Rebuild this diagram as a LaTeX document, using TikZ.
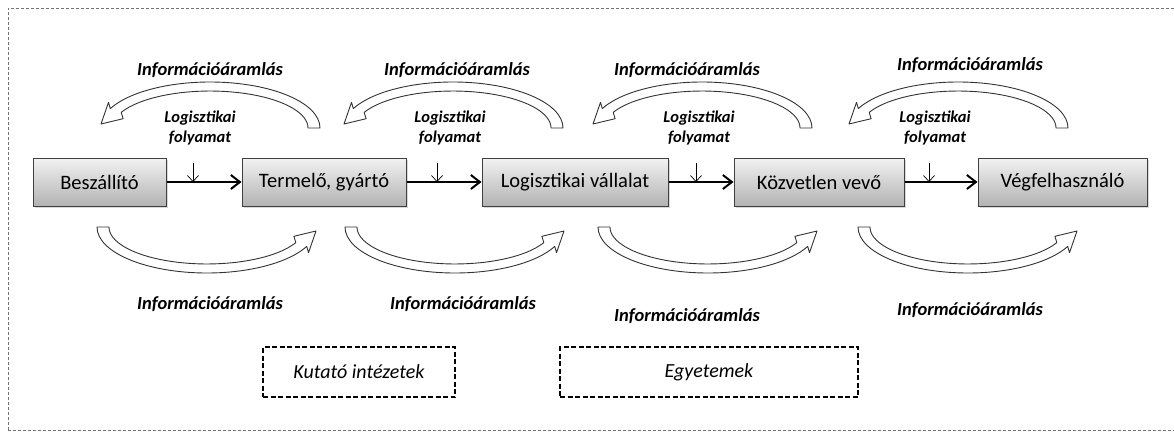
\documentclass[tikz,border=0pt]{standalone}
\usepackage{fontspec}
\setmainfont{Carlito}
\usetikzlibrary{arrows.meta, positioning, shadows}
\tikzset{
  firm/.style       = {rectangle, draw=black!75, line width=1pt,
                       top color=black!5, bottom color=black!30,
                       minimum height=48pt, inner sep=0pt,
                       font=\fontsize{20.5}{24}\selectfont,
                       drop shadow={shadow xshift=2pt, shadow yshift=-2pt, opacity=0.3}},
  flow/.style       = {-{Straight Barb[length=9pt, width=14pt]}, line width=2pt},
  tick/.style       = {-{Straight Barb[length=6pt, width=11pt]}, line width=0.7pt},
  infolabel/.style  = {font=\fontsize{18.5}{22}\selectfont\bfseries\itshape},
  loglabel/.style   = {font=\fontsize{16.5}{20}\selectfont\bfseries\itshape, align=center},
  hollow/.style     = {draw=black!80, fill=white, line width=0.9pt, line join=round},
  institute/.style  = {rectangle, draw, dash pattern=on 5pt off 2.5pt, line width=1.6pt,
                       minimum height=50pt, font=\fontsize{20}{24}\selectfont\itshape},
  frame/.style      = {draw=black!55, dash pattern=on 3pt off 2pt, line width=0.8pt},
  infoarc/.pic      = {
    \draw[hollow] (110,0) arc[start angle=0, end angle=155, x radius=110, y radius=46]
      -- (-101.5,25.7) -- (-109,4) -- (-86.9,9.3) -- (-88.8,15.6)
      arc[start angle=155, end angle=0, x radius=98, y radius=37] -- cycle;
  },
}

\begin{document}
\begin{tikzpicture}[x=1pt, y=1pt]
  \useasboundingbox (0,0) rectangle (1174,432);
  \draw[frame] (8,2) rectangle (1180,424);

  \node[firm, minimum width=133pt] (besz) at (99.5,250) {Beszállító};
  \node[firm, minimum width=164pt, right=75pt of besz] (term) {Termelő, gyártó};
  \node[firm, minimum width=186pt, right=75pt of term] (logv) {Logisztikai vállalat};
  \node[firm, minimum width=170pt, right=65pt of logv] (kozv) {Közvetlen vevő};
  \node[firm, minimum width=169pt, right=73pt of kozv] (vegf) {Végfelhasználó};

  \draw[flow] (besz) -- (term);
  \draw[flow] (term) -- (logv);
  \draw[flow] (logv) -- (kozv);
  \draw[flow] (kozv) -- (vegf);

  \node[loglabel] (log1) at (200,304) {Logisztikai\\folyamat};
  \node[loglabel] (log2) at (450,304) {Logisztikai\\folyamat};
  \node[loglabel] (log3) at (699,304) {Logisztikai\\folyamat};
  \node[loglabel] (log4) at (935,304) {Logisztikai\\folyamat};

  \coordinate (t1) at (193,269);
  \coordinate (t2) at (437,269);
  \coordinate (t3) at (696,269);
  \coordinate (t4) at (929,269);
  \draw[tick] (t1) -- (t1 |- besz.east);
  \draw[tick] (t2) -- (t2 |- term.east);
  \draw[tick] (t3) -- (t3 |- logv.east);
  \draw[tick] (t4) -- (t4 |- kozv.east);

  \pic at (210,304) {infoarc};
  \pic at (453,304) {infoarc};
  \pic at (702,304) {infoarc};
  \pic at (958,304) {infoarc};
  \pic[rotate=180] at (207,205) {infoarc};
  \pic[rotate=180] at (455,205) {infoarc};
  \pic[rotate=180] at (708,205) {infoarc};
  \pic[rotate=180] at (968,205) {infoarc};

  \node[infolabel] (infu1) at (210,362) {Információáramlás};
  \node[infolabel] (infu2) at (457,362) {Információáramlás};
  \node[infolabel] (infu3) at (687,362) {Információáramlás};
  \node[infolabel] (infu4) at (970,367) {Információáramlás};
  \node[infolabel] (infl1) at (210,128) {Információáramlás};
  \node[infolabel] (infl2) at (463,128) {Információáramlás};
  \node[infolabel] (infl3) at (687,116) {Információáramlás};
  \node[infolabel] (infl4) at (970,122) {Információáramlás};

  \node[institute, minimum width=192pt] (kut) at (359,60) {Kutató intézetek};
  \node[institute, minimum width=298pt] (egy) at (709,60) {Egyetemek};
\end{tikzpicture}
\end{document}
